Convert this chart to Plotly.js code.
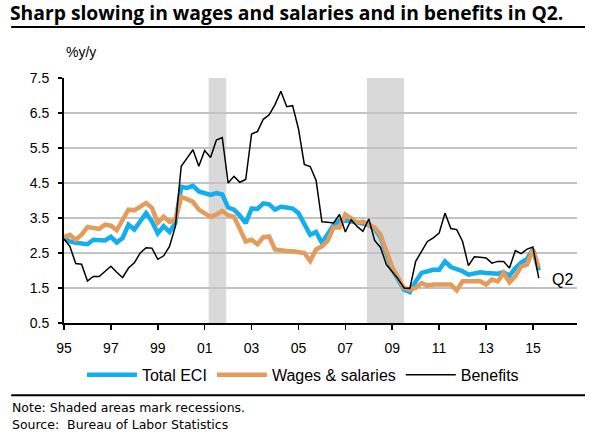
<!DOCTYPE html>
<html>
<head>
<meta charset="utf-8">
<script src="https://cdn.plot.ly/plotly-3.0.1.min.js"></script>
<style>
html,body{margin:0;padding:0;background:#fff;}
#chart{width:592px;height:437px;}
</style>
</head>
<body>
<div id="chart"></div>
<script>
// Quarterly, 1995Q1 .. 2015Q2
const startYear = 1995;
const nQuarters = 82;

const totalECI = [
  2.93, 2.83, 2.79, 2.77, 2.75, 2.88, 2.88, 2.86, 2.96, 2.80,
  2.93, 3.31, 3.17, 3.40, 3.64, 3.40, 3.06, 3.27, 3.10, 3.36,
  4.39, 4.36, 4.42, 4.26, 4.20, 4.16, 4.21, 4.17, 3.80, 3.74,
  3.57, 3.35, 3.77, 3.76, 3.92, 3.89, 3.74, 3.82, 3.80, 3.77,
  3.64, 3.31, 3.02, 3.10, 2.79, 3.04, 3.30, 3.42, 3.43, 3.40,
  3.38, 3.34, 3.30, 3.19, 2.95, 2.45, 2.03, 1.74, 1.45, 1.38,
  1.69, 1.93, 1.98, 2.02, 2.02, 2.26, 2.10, 2.04, 1.98, 1.88,
  1.93, 1.95, 1.93, 1.91, 1.91, 1.95, 1.85, 2.07, 2.23, 2.33,
  2.60, 2.00
];

const wagesSalaries = [
  2.95, 3.02, 2.88, 3.02, 3.24, 3.21, 3.19, 3.31, 3.28, 3.15,
  3.45, 3.74, 3.72, 3.83, 3.93, 3.79, 3.36, 3.54, 3.39, 3.45,
  4.10, 4.04, 3.96, 3.74, 3.65, 3.53, 3.60, 3.70, 3.58, 3.53,
  3.19, 2.83, 2.88, 2.75, 2.95, 2.97, 2.60, 2.57, 2.56, 2.55,
  2.54, 2.50, 2.27, 2.60, 2.69, 2.85, 3.23, 3.23, 3.60, 3.47,
  3.37, 3.40, 3.30, 3.23, 3.02, 2.55, 2.10, 1.80, 1.50, 1.45,
  1.50, 1.64, 1.57, 1.60, 1.60, 1.62, 1.60, 1.43, 1.69, 1.69,
  1.69, 1.69, 1.60, 1.74, 1.69, 1.93, 1.66, 1.83, 2.12, 2.17,
  2.60, 2.08
];

const benefits = [
  2.90, 2.69, 2.20, 2.18, 1.70, 1.83, 1.83, 1.98, 2.12, 1.95,
  1.80, 2.07, 2.22, 2.50, 2.65, 2.64, 2.32, 2.42, 2.69, 3.26,
  4.98, 5.21, 5.45, 4.98, 5.43, 5.23, 5.73, 5.80, 4.50, 4.69,
  4.52, 4.60, 5.90, 5.97, 6.32, 6.45, 6.74, 7.12, 6.68, 6.71,
  6.05, 5.03, 4.97, 4.58, 3.39, 3.38, 3.36, 3.60, 3.10, 3.45,
  3.26, 3.12, 3.47, 2.86, 2.66, 2.17, 1.95, 1.76, 1.50, 1.49,
  2.26, 2.55, 2.83, 2.93, 3.07, 3.64, 3.20, 3.17, 2.83, 2.14,
  2.39, 2.38, 2.36, 2.21, 2.26, 2.26, 2.07, 2.57, 2.48, 2.61,
  2.67, 1.78
];

const recessionStart = [2001.17, 2007.92];
const recessionEnd   = [2001.92, 2009.50];

const tickYears  = [1995, 1997, 1999, 2001, 2003, 2005, 2007, 2009, 2011, 2013, 2015];
const tickLabels = ['95', '97', '99', '01', '03', '05', '07', '09', '11', '13', '15'];
const yTickVals  = [0.5, 1.5, 2.5, 3.5, 4.5, 5.5, 6.5, 7.5];
const yTickText  = ['0.5', '1.5', '2.5', '3.5', '4.5', '5.5', '6.5', '7.5'];

const seriesNames = ['Total ECI', 'Wages & salaries', 'Benefits'];
const titleText = 'Sharp slowing in wages and salaries and in benefits in Q2.';
const unitText = '%y/y';
const endLabel = {text: 'Q2', x: 2016.28, y: 1.74};
const noteLines = ['Note: Shaded areas mark recessions.', 'Source:  Bureau of Labor Statistics'];

// time axis built from quarter index
const dates = [];
for (let i = 0; i < nQuarters; i++) dates.push(startYear + i / 4);

const traces = [
  {x: dates, y: totalECI, name: seriesNames[0], type: 'scatter', mode: 'lines',
   line: {color: '#12AEEF', width: 4.5}},
  {x: dates, y: wagesSalaries, name: seriesNames[1], type: 'scatter', mode: 'lines',
   line: {color: '#E39C5C', width: 4.5}},
  {x: dates, y: benefits, name: seriesNames[2], type: 'scatter', mode: 'lines',
   line: {color: '#000000', width: 1.5}}
];

const shapes = recessionStart.map((s, k) => ({
  type: 'rect', xref: 'x', yref: 'paper', x0: s, x1: recessionEnd[k], y0: 0, y1: 1,
  fillcolor: '#d9d9d9', line: {width: 0}, layer: 'between'
}));
shapes.push({type: 'line', xref: 'paper', yref: 'paper', x0: -0.103, x1: 1.0156, y0: 1.208, y1: 1.208,
  line: {color: '#000', width: 2}});
shapes.push({type: 'line', xref: 'paper', yref: 'paper', x0: -0.103, x1: 1.0156, y0: -0.295, y1: -0.295,
  line: {color: '#000', width: 2}});

const annotations = [
  {text: unitText, xref: 'paper', yref: 'paper', x: 0.0, y: 1.107, xanchor: 'left', yanchor: 'middle',
   showarrow: false, font: {family: 'Liberation Sans, Arial, sans-serif', size: 14, color: '#000'}},
  {text: endLabel.text, xref: 'x', yref: 'y', x: endLabel.x, y: endLabel.y, xanchor: 'center', yanchor: 'middle',
   showarrow: false, font: {family: 'Liberation Sans, Arial, sans-serif', size: 16, color: '#000'}},
  {text: noteLines[0], xref: 'paper', yref: 'paper', x: -0.105, y: -0.345, xanchor: 'left', yanchor: 'middle',
   showarrow: false, font: {family: 'DejaVu Sans, sans-serif', size: 12.5, color: '#000'}},
  {text: noteLines[1], xref: 'paper', yref: 'paper', x: -0.105, y: -0.416, xanchor: 'left', yanchor: 'middle',
   showarrow: false, font: {family: 'DejaVu Sans, sans-serif', size: 12.5, color: '#000'}}
];

const layout = {
  width: 592, height: 437,
  margin: {l: 64, r: 15, t: 78, b: 114},
  paper_bgcolor: '#fff', plot_bgcolor: '#fff',
  title: {text: '<b>' + titleText + '</b>', xref: 'container', yref: 'container', x: 10/592, xanchor: 'left',
          y: 1 - 13/437, yanchor: 'middle',
          font: {family: 'Open Sans, sans-serif', size: 19.3, color: '#000'}},
  showlegend: true,
  legend: {orientation: 'h', x: 0.035, xanchor: 'left', y: -0.212, yanchor: 'middle',
           font: {family: 'Liberation Sans, Arial, sans-serif', size: 16, color: '#000'},
           itemwidth: 50, bgcolor: 'rgba(0,0,0,0)', traceorder: 'normal'},
  xaxis: {range: [1995, 2016.88], tickvals: tickYears, ticktext: tickLabels, showgrid: false,
          zeroline: false, showline: true, linecolor: '#000', linewidth: 2,
          ticks: 'outside', ticklen: 5, tickwidth: 1.5, tickcolor: '#000', ticklabelstandoff: 6,
          tickfont: {family: 'Liberation Sans, Arial, sans-serif', size: 14, color: '#000'}},
  yaxis: {range: [0.5, 7.5], tickvals: yTickVals, ticktext: yTickText, showgrid: true,
          gridcolor: '#c3c3c3', gridwidth: 2, zeroline: false, showline: true, linecolor: '#000', linewidth: 2,
          ticks: 'outside', ticklen: 4, tickwidth: 1.5, tickcolor: '#000', ticklabelstandoff: 6,
          tickfont: {family: 'Liberation Sans, Arial, sans-serif', size: 14, color: '#000'}},
  shapes: shapes,
  annotations: annotations
};

Plotly.newPlot('chart', traces, layout, {staticPlot: true, displayModeBar: false});
</script>
</body>
</html>
